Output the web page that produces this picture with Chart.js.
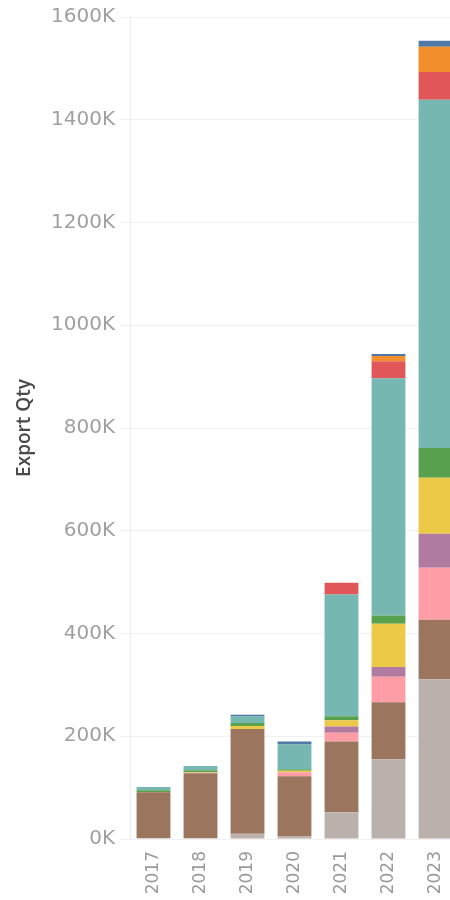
<!DOCTYPE html>
<html>
<head>
<meta charset="utf-8">
<script src="https://cdn.jsdelivr.net/npm/chart.js@4.4.1/dist/chart.umd.min.js"></script>
<style>
  html, body { margin: 0; padding: 0; background: #fff; overflow: hidden; }
  #myChart { display: block; }
</style>
</head>
<body>
<canvas id="myChart" width="460" height="900"></canvas>
<script>
// years on the x axis
const years = ['2017', '2018', '2019', '2020', '2021', '2022', '2023']

// export qty per segment, stacked bottom -> top
const grayQty   = [2000, 2000, 10000, 5000, 52000, 155000, 311000]
const brownQty  = [89000, 126000, 204000, 117000, 138000, 111000, 116000]
const pinkQty   = [0, 1000, 0, 8000, 17000, 50000, 101000]
const purpleQty = [0, 0, 0, 0, 12000, 19000, 66000]
const yellowQty = [0, 1000, 6000, 3000, 12000, 84000, 109000]
const greenQty  = [4000, 4000, 6000, 3000, 8000, 16000, 58000]
const tealQty   = [6000, 8000, 13000, 48000, 237000, 462000, 678000]
const redQty    = [0, 0, 0, 0, 23000, 33000, 54000]
const orangeQty = [0, 0, 0, 0, 0, 10000, 49000]
const blueQty   = [0, 0, 3000, 6000, 0, 4000, 12000]

// y axis ticks
const yTicks = [0, 200000, 400000, 600000, 800000, 1000000, 1200000, 1400000, 1600000]

function seg(label, values, color) {
    return {
        label: label,
        data: values,
        backgroundColor: color,
        borderWidth: 0,
        barPercentage: 0.72,
        categoryPercentage: 1.0,
    }
}

const data = {
    labels: years,
    datasets: [
        seg('Gray', grayQty, '#bab0ac'),
        seg('Brown', brownQty, '#9c755f'),
        seg('Pink', pinkQty, '#ff9da7'),
        seg('Purple', purpleQty, '#b07aa1'),
        seg('Yellow', yellowQty, '#edc948'),
        seg('Green', greenQty, '#59a14f'),
        seg('Teal', tealQty, '#76b7b2'),
        seg('Red', redQty, '#e15759'),
        seg('Orange', orangeQty, '#f28e2b'),
        seg('Blue', blueQty, '#4e79a7'),
    ]
}

// config
const config = {
    type: 'bar',
    data,
    options: {
        responsive: false,
        animation: false,
        devicePixelRatio: 1,
        layout: {
            padding: { top: 15, right: 1, bottom: 0, left: 0 }
        },
        plugins: {
            legend: { display: false },
            tooltip: { enabled: false },
        },
        scales: {
            x: {
                stacked: true,
                afterFit: (axis) => {
                    axis.height = 61
                },
                grid: { display: false },
                border: { display: false },
                ticks: {
                    color: '#9a9a9a',
                    font: { family: 'DejaVu Sans', size: 17 },
                    maxRotation: 90,
                    minRotation: 90,
                    padding: 4,
                }
            },
            y: {
                stacked: true,
                min: 0,
                max: 1600000,
                afterBuildTicks: (axis) => {
                    axis.ticks = yTicks.map(v => ({ value: v }))
                },
                afterFit: (axis) => {
                    axis.width = 130
                },
                grid: {
                    color: '#f0f0f0',
                    tickLength: 10,
                    tickColor: '#f0f0f0',
                },
                border: { color: '#ececec' },
                ticks: {
                    color: '#a0a0a0',
                    padding: 5,
                    font: { family: 'DejaVu Sans', size: 20 },
                    callback: (v) => (v / 1000) + 'K',
                },
                title: {
                    display: true,
                    text: 'Export Qty',
                    color: '#4a4a4a',
                    font: { family: 'Open Sans', size: 19, weight: '600' },
                    padding: { top: 13, bottom: 0 },
                }
            }
        }
    }
}

const myChart = new Chart(document.getElementById('myChart'), config)
</script>
</body>
</html>
